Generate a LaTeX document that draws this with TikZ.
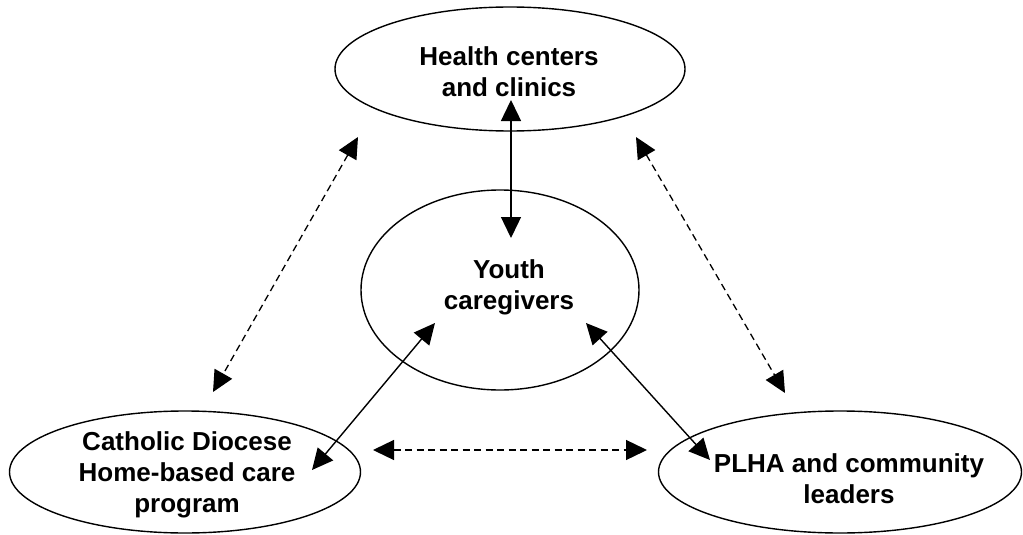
\documentclass[tikz,border=0pt]{standalone}
\usepackage{fontspec}
\setmainfont{Liberation Sans}
\usetikzlibrary{shapes.geometric,arrows.meta}
\begin{document}
\begin{tikzpicture}[x=1pt,y=-1pt,
  oval/.style={draw,ellipse,line width=1.4pt,inner sep=0pt},
  label text/.style={inner sep=0pt,align=center,font=\fontsize{26}{31}\selectfont\bfseries},
  solidlink/.style={line width=1.4pt,{Triangle[length=21pt,width=20pt]}-{Triangle[length=21pt,width=20pt]}},
  dashlink/.style={line width=1.3pt,dash pattern=on 7pt off 4.5pt,{Triangle[length=21pt,width=20pt]}-{Triangle[length=21pt,width=20pt]}}]
\useasboundingbox (0,0) rectangle (1023,535);
\node[oval,minimum width=350pt,minimum height=124pt] (hc) at (510,69) {};
\node[oval,minimum width=278pt,minimum height=200pt] (yc) at (500,290) {};
\node[oval,minimum width=351pt,minimum height=122pt] (cd) at (185,472) {};
\node[oval,minimum width=363pt,minimum height=122pt] (pl) at (840,472) {};
\node[label text] (hct) at (509,72) {Health centers\\and clinics};
\node[label text] (yct) at (509,287) {Youth\\caregivers};
\node[label text] (cdt) at (187,475) {Catholic Diocese\\Home-based care\\program};
\node[label text] (plt) at (849,479) {PLHA and community\\leaders};
\coordinate (v1) at (511,100);
\coordinate (v2) at (511,238);
\coordinate (l1) at (358,137);
\coordinate (l2) at (213,392);
\coordinate (r1) at (636,137);
\coordinate (r2) at (785,393);
\coordinate (h1) at (373,450);
\coordinate (h2) at (647,450);
\coordinate (s1) at (435,323);
\coordinate (s2) at (312,470);
\coordinate (t1) at (586,323);
\coordinate (t2) at (710,460);
\draw[solidlink] (v1) -- (v2);
\draw[solidlink] (s1) -- (s2);
\draw[solidlink] (t1) -- (t2);
\draw[dashlink] (l1) -- (l2);
\draw[dashlink] (r1) -- (r2);
\draw[dashlink] (h1) -- (h2);
\end{tikzpicture}
\end{document}
